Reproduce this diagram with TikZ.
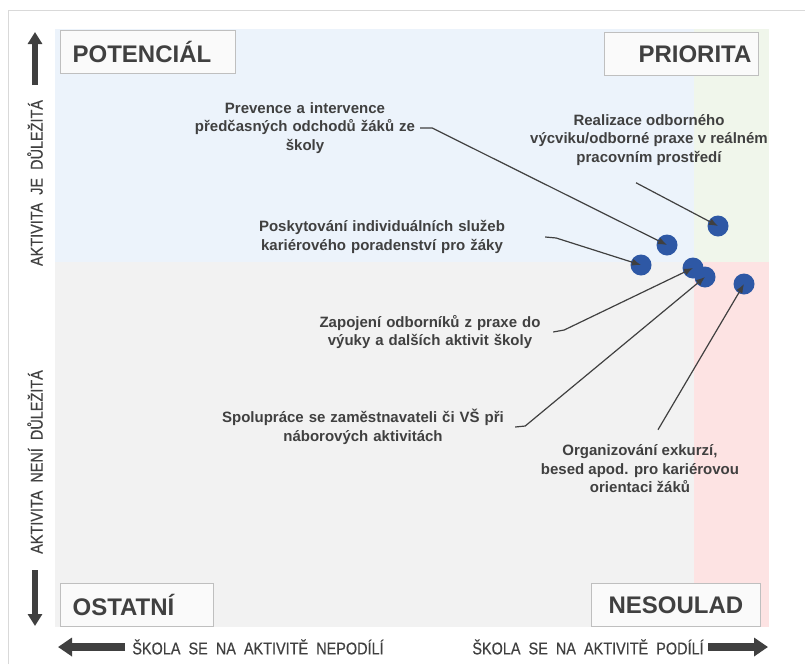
\documentclass[tikz,border=0pt]{standalone}
\usepackage{fontspec}
\setmainfont{Liberation Sans}
\newfontfamily\narrowfont{Liberation Sans}[FakeStretch=0.85,WordSpace=2.0,FakeBold=0.4]
\usepackage{tikz}
\usetikzlibrary{arrows.meta,positioning}
\definecolor{txtgray}{RGB}{64,64,64}
\definecolor{dotblue}{RGB}{46,88,165}
\definecolor{qblue}{RGB}{236,243,251}
\definecolor{qgreen}{RGB}{240,246,235}
\definecolor{qgray}{RGB}{242,242,242}
\definecolor{qpink}{RGB}{253,227,227}
\definecolor{boxline}{RGB}{191,191,191}
\definecolor{framegray}{RGB}{217,217,217}

\begin{document}
\begin{tikzpicture}[x=1pt, y=-1pt, > = {Latex[length=9pt,width=7pt]},
    note/.style={inner sep=0pt, align=center, text=txtgray, font=\fontsize{15}{18.5}\selectfont\bfseries},
    cornerbox/.style={draw=boxline, line width=1.2pt, fill=white!98!black, minimum height=43pt, inner xsep=12pt, text=txtgray, font=\fontsize{24}{24}\selectfont\bfseries},
    axislabel/.style={inner sep=0pt, text=txtgray, font=\fontsize{17}{17}\narrowfont},
    dot/.style={circle, fill=dotblue, inner sep=0pt, minimum size=21pt},
    link/.style={->, draw=txtgray, line width=1.2pt},
    bigarrow/.style={draw=txtgray, line width=6pt, -{Triangle[length=12pt,width=14pt]}},
    widearrow/.style={draw=txtgray, line width=8pt, -{Triangle[length=14pt,width=18pt]}}]
    \useasboundingbox (0,0) rectangle (805,664);
    \draw[framegray, line width=1pt] (8,664) |- (805,10);

    % quadrants
    \fill[qblue] (55,29) rectangle (694,262);
    \fill[qgreen] (694,29) rectangle (769,262);
    \fill[qgray] (55,262) rectangle (694,627);
    \fill[qpink] (694,262) rectangle (769,627);

    \node[cornerbox, anchor=north west, text width=151pt, align=left](pot) at (60,30) {POTENCIÁL};
    \node[cornerbox, anchor=north east, text width=140pt, align=right, inner xsep=7pt](pri) at (759,32) {PRIORITA};
    \node[cornerbox, anchor=south west, text width=129pt, align=left](ost) at (60,627) {OSTATNÍ};
    \node[cornerbox, anchor=south east, text width=155pt, align=center, inner xsep=7pt](nes) at (761,627) {NESOULAD};

    % axes
    \draw[bigarrow] (35,85) -- (35,32);
    \draw[bigarrow] (35,570) -- (35,626);
    \draw[widearrow] (125,647) -- (58,647);
    \draw[widearrow] (708,647) -- (768,647);
    \node[axislabel, rotate=90](imp) at (35,183) {AKTIVITA JE DŮLEŽITÁ};
    \node[axislabel, rotate=90](notimp) at (35,462) {AKTIVITA NENÍ DŮLEŽITÁ};
    \node[axislabel](nopart) at (258,647) {ŠKOLA SE NA AKTIVITĚ NEPODÍLÍ};
    \node[axislabel](part) at (588,647) {ŠKOLA SE NA AKTIVITĚ PODÍLÍ};

    % activities
    \node[dot](d1) at (718,226) {};
    \node[dot](d2) at (667,245) {};
    \node[dot](d3) at (641,265) {};
    \node[dot](d4) at (693,268) {};
    \node[dot](d5) at (705,277) {};
    \node[dot](d6) at (744,284) {};

    \node[note, text width=230pt](prev) at (305,128) {Prevence a intervence\\předčasných odchodů žáků ze\\školy};
    \node[note](real) at (649,140) {Realizace odborného\\výcviku/odborné praxe v reálném\\pracovním prostředí};
    \node[note, text width=326pt](posk) at (382,237) {Poskytování individuálních služeb\\kariérového poradenství pro žáky};
    \node[note, text width=246pt](zap) at (430,332) {Zapojení odborníků z praxe do\\výuky a dalších aktivit školy};
    \node[note, text width=304pt](spol) at (363,427) {Spolupráce se zaměstnavateli či VŠ při\\náborových aktivitách};
    \node[note](org) at (640,469) {Organizování exkurzí,\\besed apod. pro kariérovou\\orientaci žáků};

    \draw[link] (prev.east) -- ++(12,0) -- (d2.center);
    \draw[link] ([shift={(-13,17)}]real.south) -- (d1.center);
    \draw[link] (posk.east) -- ++(11,1) -- (d3.center);
    \draw[link] (zap.east) -- ++(11,-2) -- (d4.center);
    \draw[link] (spol.east) -- ++(10,-1) -- (d5.center);
    \draw[link] ([shift={(18,-15)}]org.north) -- (d6.center);
\end{tikzpicture}
\end{document}
